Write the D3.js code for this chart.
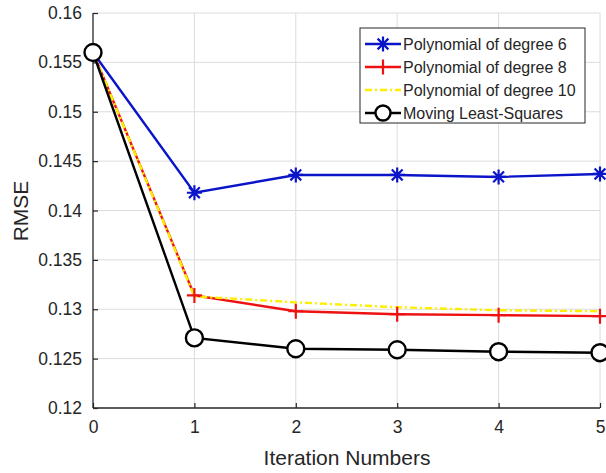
<!DOCTYPE html>
<html>
<head>
<meta charset="utf-8">
<script src="https://cdn.jsdelivr.net/npm/d3@7"></script>
<style>
  body { margin: 0; background: #fff; }
  text { font-family: "Liberation Sans", Arial, sans-serif; fill: #262626; }
</style>
</head>
<body>
<div id="vis"></div>
<script>
// data
var iterations = [0, 1, 2, 3, 4, 5];
var poly6  = [0.156, 0.1418, 0.1436, 0.1436, 0.1434, 0.1437];
var poly8  = [0.156, 0.1314, 0.1298, 0.1295, 0.1294, 0.1293];
var poly10 = [0.156, 0.1313, 0.1307, 0.1302, 0.1299, 0.1298];
var mls    = [0.156, 0.1271, 0.1260, 0.1259, 0.1257, 0.1256];
var yTicks = [0.12, 0.125, 0.13, 0.135, 0.14, 0.145, 0.15, 0.155, 0.16];
var names  = ['Polynomial of degree 6', 'Polynomial of degree 8', 'Polynomial of degree 10', 'Moving Least-Squares'];

var W = 606, H = 473;
var pL = 93, pR = 600, pT = 13, pB = 408;

var svg = d3.select('#vis').append('svg')
  .attr('width', W)
  .attr('height', H);

var x = d3.scaleLinear().domain([0, 5]).range([pL, pR]);
var y = d3.scaleLinear().domain([0.12, 0.16]).range([pB, pT]);

// grid
var grid = svg.append('g');
grid.selectAll('.gx').data(iterations.slice(1)).enter().append('line')
  .attr('x1', d => x(d)).attr('x2', d => x(d))
  .attr('y1', pT).attr('y2', pB)
  .attr('stroke', '#dcdcdc').attr('stroke-width', 1);
grid.selectAll('.gy').data(yTicks.slice(1)).enter().append('line')
  .attr('x1', pL).attr('x2', pR)
  .attr('y1', d => y(d)).attr('y2', d => y(d))
  .attr('stroke', '#dcdcdc').attr('stroke-width', 1);

// axes, ticks point inward like matlab
var xAxis = svg.append('g')
  .attr('transform', 'translate(0,' + pB + ')')
  .call(d3.axisBottom(x).tickValues(iterations).tickSize(-5).tickPadding(13).tickFormat(d3.format('d')));
var yAxis = svg.append('g')
  .attr('transform', 'translate(' + pL + ',0)')
  .call(d3.axisLeft(y).tickValues(yTicks).tickSize(-5).tickPadding(11).tickFormat(d => String(+d.toFixed(3))));

[xAxis, yAxis].forEach(function(a) {
  a.select('.domain').attr('stroke', '#262626').attr('stroke-width', 1.3);
  a.selectAll('.tick line').attr('stroke', '#262626').attr('stroke-width', 1.2);
  a.selectAll('.tick text').style('font-size', '17.5px').attr('fill', '#262626')
    .style('font-family', '"Liberation Sans", Arial, sans-serif');
});
xAxis.select('.domain').attr('d', 'M' + pL + ',0H' + pR);
yAxis.select('.domain').attr('d', 'M0,' + pB + 'V' + pT);

// axis labels
svg.append('text')
  .attr('x', 347).attr('y', 465)
  .attr('text-anchor', 'middle')
  .style('font-size', '21px')
  .text('Iteration Numbers');
svg.append('text')
  .attr('transform', 'translate(28,211) rotate(-90)')
  .attr('text-anchor', 'middle')
  .style('font-size', '21px')
  .text('RMSE');

var line = d3.line().x((d, i) => x(iterations[i])).y(d => y(d));

var plot = svg.append('g');

// marker helpers
function star(g, cx, cy, col, s) {
  var r = s / 2;
  var p = 'M' + (cx - r) + ',' + cy + 'H' + (cx + r) +
          'M' + cx + ',' + (cy - r) + 'V' + (cy + r) +
          'M' + (cx - r * 0.72) + ',' + (cy - r * 0.72) + 'L' + (cx + r * 0.72) + ',' + (cy + r * 0.72) +
          'M' + (cx - r * 0.72) + ',' + (cy + r * 0.72) + 'L' + (cx + r * 0.72) + ',' + (cy - r * 0.72);
  g.append('path').attr('d', p).attr('stroke', col).attr('stroke-width', 2.2).attr('fill', 'none');
}
function plus(g, cx, cy, col, s) {
  var r = s / 2;
  g.append('path')
    .attr('d', 'M' + (cx - r) + ',' + cy + 'H' + (cx + r) + 'M' + cx + ',' + (cy - r) + 'V' + (cy + r))
    .attr('stroke', col).attr('stroke-width', 2.2).attr('fill', 'none');
}
function circ(g, cx, cy, col, s) {
  g.append('circle').attr('cx', cx).attr('cy', cy).attr('r', s / 2)
    .attr('fill', '#fff').attr('stroke', col).attr('stroke-width', 2.4);
}

var series = [
  { vals: poly6,  col: '#0a14c8', dash: null,  mark: star },
  { vals: poly8,  col: '#ee1111', dash: null,  mark: plus },
  { vals: poly10, col: '#ffee00', dash: '7,3,2,3', mark: null },
  { vals: mls,    col: '#000000', dash: null,  mark: circ }
];

// lines first, markers on top
series.forEach(function(s) {
  plot.append('path').datum(s.vals)
    .attr('d', line)
    .attr('fill', 'none')
    .attr('stroke', s.col)
    .attr('stroke-width', 2.4)
    .attr('stroke-dasharray', s.dash);
});
series.forEach(function(s) {
  if (!s.mark) return;
  s.vals.forEach(function(v, i) {
    s.mark(plot, x(iterations[i]), y(v), s.col, s.mark === circ ? 17 : 15);
  });
});

// legend
var lg = svg.append('g').attr('transform', 'translate(360,28)');
lg.append('rect').attr('width', 225).attr('height', 95)
  .attr('fill', '#fff').attr('stroke', '#262626').attr('stroke-width', 1);
series.forEach(function(s, i) {
  var yy = 16 + i * 23;
  lg.append('line').attr('x1', 5).attr('x2', 41).attr('y1', yy).attr('y2', yy)
    .attr('stroke', s.col).attr('stroke-width', 2.4).attr('stroke-dasharray', s.dash);
  if (s.mark) s.mark(lg, 23, yy, s.col, 15);
  lg.append('text').attr('x', 43).attr('y', yy + 6)
    .style('font-size', '16px').attr('fill', '#000')
    .text(names[i]);
});
</script>
</body>
</html>
